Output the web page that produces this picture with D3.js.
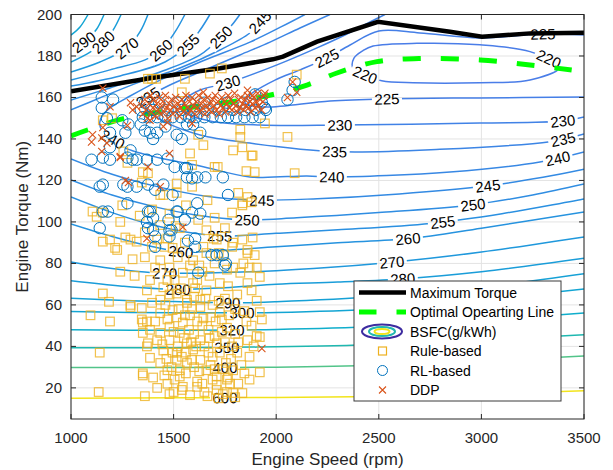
<!DOCTYPE html>
<html><head><meta charset="utf-8">
<script src="https://cdn.jsdelivr.net/npm/d3@7"></script>
<style>body{margin:0;background:#fff;} svg{font-family:"Liberation Sans",Arial,Helvetica,sans-serif;}</style>
</head><body><svg id="c" width="613" height="470"></svg>
<script>
const xTicks=[1000,1500,2000,2500,3000,3500];
const yTicks=[20,40,60,80,100,120,140,160,180,200];
const contourLevels=[220,225,230,235,240,245,250,255,260,270,280,290,300,320,350,400,600];
const contourColors=["#4a7de8","#457fe7","#4182e6","#3c85e5","#3888e4","#338ae3","#2f8de2","#2a90e1","#2693df","#1f98dc","#1a9dd9","#16a1d6","#13a5d3","#10aecc","#1fb8b0","#52c489","#f2e41c"];

const c600=[[1000,15],[1500,15.2],[2000,15.4],[2500,15.9],[3000,17.0],[3500,18.6]];
const c400=[[1000,29.8],[1500,29.8],[2000,30.0],[2500,30.9],[3000,32.9],[3500,35.4]];
const c350=[[1000,39.4],[1500,39.3],[2000,39.8],[2500,40.9],[3000,43.0],[3500,45.6]];
const c320=[[1000,48.0],[1500,47.8],[2000,48.2],[2500,49.6],[3000,52.5],[3500,56.1]];
const c300Lo=[[1000,56.8],[1500,56.2],[2000,56.4],[2500,58.2],[3000,62.5],[3500,67.7]];
const c300Up=[[1000,190.1],[1044,194.0],[1083,200]];
const c290Lo=[[1000,63.2],[1300,62.0],[1500,61.6],[1800,61.0],[2000,61.5],[2500,64],[3000,68.5],[3500,75]];
const c290Up=[[1000,182.9],[1063,186.7],[1122,192.5],[1161,200]];
const c280Lo=[[1000,71.6],[1250,69],[1500,67.5],[1750,68.3],[2000,70],[2300,71],[2600,72.5],[3000,76],[3500,82.5]];
const c280Up=[[1000,177.1],[1093,181.9],[1156,186.7],[1205,192.5],[1244,200]];
const c270Lo=[[1000,80.7],[1200,77.5],[1400,75.5],[1700,75.5],[2000,76.5],[2250,78],[2500,80],[2750,82.5],[3000,85.5],[3250,89],[3500,92.8]];
const c270Up=[[1000,172.3],[1141,177.1],[1273,183.9],[1336,191.6],[1375,200]];
const c260Lo=[[1000,99],[1200,93],[1400,88],[1550,85.5],[1700,86],[2000,88],[2300,90],[2650,92],[3000,97],[3500,104.8]];
const c260Up=[[1000,168.4],[1190,173.3],[1361,178.1],[1439,182.9],[1507,191.6],[1555,200]];
const c255Lo=[[1000,112],[1200,104.5],[1400,98.5],[1600,94.5],[1750,93.2],[2000,94.5],[2300,96.2],[2750,99.3],[3100,104],[3500,111.1]];
const c255Up=[[1000,165.5],[1239,170.4],[1458,177.1],[1570,185.3],[1629,192.5],[1677,200]];
const c250Lo=[[1000,120.3],[1200,113],[1400,107.5],[1600,103.5],[1850,101],[2100,102],[2500,104.5],[2950,108.2],[3250,113],[3500,118.3]];
const c250Up=[[1000,158.8],[1190,164.6],[1434,172.3],[1629,180.5],[1731,189.2],[1784,194.9],[1823,200]];
const c245Lo=[[1000,130.4],[1200,123],[1400,117.5],[1650,112.5],[1900,110.5],[2200,111.2],[2600,113.5],[3030,117.4],[3300,121.5],[3500,125.4]];
const c245Up=[[1000,154],[1141,159.8],[1336,167.5],[1531,174.2],[1726,182.9],[1872,191.1],[1921,196.4],[1960,200]];
const c240=[[2140,200],[2023,194],[1872,186.7],[1629,177.1],[1434,168.4],[1288,160.7],[1190,155],[1155,151.5],[1140,148],[1150,144],[1180,141],[1214,139.3],[1263,135.7],[1434,130.8],[1629,127],[1872,121.7],[2150,122.2],[2272,121.7],[2847,124.1],[3285,128.9],[3500,133.7]];
const c235=[[2262,200],[2116,193.5],[1970,186.7],[1823,180.5],[1629,172.3],[1482,166],[1375,160.2],[1346,157.8],[1361,154.9],[1458,148.2],[1629,141.9],[1872,138],[2286,133.9],[2798,135],[3334,138.7],[3500,142.4]];
const c230=[[2530,200],[2457,196.4],[2335,190.1],[2199,183.9],[2004,175.7],[1765,167],[1629,163.6],[1555,158.8],[1555,153],[1677,148.7],[1921,146.7],[2311,146.7],[2993,147.7],[3397,148.7],[3500,150.6]];
const c225=[[3500,190.1],[3300,190.6],[2993,188.7],[2700,191.1],[2500,192],[2360,185.3],[2247,179],[2116,173.3],[1994,168.4],[1872,161.2],[1848,157.4],[1936,155.4],[2262,158.3],[2540,159.3],[2993,159.8],[3500,160.2]];
const c220=[[2379,179],[2423,182.6],[2472,184.8],[2686,186.1],[2993,185.4],[3237,182.1],[3383,174.7],[3237,168.4],[2993,167.1],[2667,167.1],[2514,168.1],[2435,170.8],[2374,174.2]];

const contourSegments=[[600,c600],[400,c400],[350,c350],[320,c320],[300,c300Lo],[300,c300Up],[290,c290Lo],[290,c290Up],[280,c280Lo],[280,c280Up],[270,c270Lo],[270,c270Up],[260,c260Lo],[260,c260Up],[255,c255Lo],[255,c255Up],[250,c250Lo],[250,c250Up],[245,c245Lo],[245,c245Up],[240,c240],[235,c235],[230,c230],[225,c225],[220,c220]];

const contourLabels=[[220,2433,170.8],[220,3325,178.1],
[225,2247,179],[225,2540,159.3],[225,3300,190.6],
[230,1765,167],[230,2311,146.7],[230,3397,148.7],
[235,1375,160.2],[235,2286,133.9],[235,3397,140.5],
[240,1205,140],[240,2272,121.8],[240,3373,130.8],
[245,1921,196.4],[245,1931,110.3],[245,3032,117.4],
[250,1731,189.2],[250,1858,101],[250,2959,108.2],
[255,1570,185.3],[255,1726,92.8],[255,2813,99.5],
[260,1439,182.9],[260,1536,85.6],[260,2642,91.8],
[270,1273,183.9],[270,1458,75.4],[270,2564,79.8],
[280,1156,186.7],[280,1521,67.2],[280,2618,72],
[290,1063,186.7],[290,1765,61],
[300,1833,55.2],[320,1785,47],[350,1760,38.5],[400,1750,28.9],[600,1750,15]];

const maxTorque=[[1000,163],[1385,169.3],[1726,174.1],[1984,178.4],[2033,179.7],[2199,186.9],[2496,196.5],[2847,191.7],[3003,189.3],[3237,190.9],[3500,191.2]];
const optimalLine=[[1000,141.5],[1100,145],[1263,150],[1500,154],[1750,157.5],[1936,160.4],[2150,166],[2296,171.8],[2491,177.3],[2700,178.8],[2993,178.1],[3237,175.7],[3440,173.2]];

const ruleBased=[[1375,169],[1395,169],[1415,169],[1677,171.5],[1735,174],[1555,169],[2100,171],[1155,149],[1200,150],[1540,162.5],[1620,142],[1645,137],[1580,133],[1590,127.5],[1835,136],[1790,134.5],[1880,132],[1825,144.5],[1825,141],[1945,147.5],[2055,141],[2090,123.5],[1700,126.5],[1855,124.5],[1350,124],[1345,119],[1255,134],[1275,128.5],[1450,113],[1515,114],[1665,110.5],[1815,114],[1860,112],[1835,109],[1435,113],[1105,105],[1125,102.5],[1240,100],[1375,123.5],[1515,118.5],[1590,117],[1715,126.5],[1880,109.5],[1895,124],[1885,132],[1215,87.5],[1290,91.5],[1360,95],[1435,98.5],[1420,91.5],[1495,87.5],[1555,90],[1595,81.5],[1660,85],[1790,90],[1835,91.5],[1885,92.5],[1860,86.5],[1895,84],[1905,78],[1825,75.5],[1760,77],[1155,104.5],[1155,90.5],[1190,91.5],[1225,86.5],[1265,92.5],[1320,90.5],[1155,65.5],[1185,61.5],[1095,55],[1190,52],[1140,37],[1135,18],[1360,16],[1240,76],[1310,74],[1290,59],[1345,53],[1350,46.5],[1370,40],[1385,34.5],[1350,27],[1920,56.5],[1930,53],[1920,44.5],[1870,35],[1920,27.5],[1870,24],[1835,17.5],[1800,15.5],[1540,19],[1615,23],[1710,21.5],[1760,18],[1530,28.5],[1590,33.5],[1765,25],[1480,43],[1515,37],[1630,43],[1670,37],[1435,62.5],[1495,57.5],[1565,62.5],[1630,59],[1680,54],[1735,53],[1450,68.5],[1515,65.5],[1595,70.5],[1660,67],[1725,70.5],[1480,78],[1545,75.5],[1615,72],[1435,81.5],[1385,72],[1870,78],[1860,85],[1920,73.5],[1860,70.5],[1785,104.5],[1835,108],[1620,101],[1785,88],[1710,91.5],
[1290,60],[1345,58.5],[1370,52],[1385,48],[1435,56],[1470,53],[1480,49.5],[1515,54],[1545,51.5],[1580,55],[1615,52],[1645,53.5],[1530,46.5],[1565,41.5],[1595,38.5],[1670,48],[1515,33.5],[1565,32],[1630,33.5],[1660,28.5],[1710,25.5],[1760,24],[1530,25.5],[1615,20.5],[1710,19],[1790,17.5],[1860,43],[1880,67],[1350,26],[1420,43],[1375,41.5],[1470,28.5],[1495,37],[1435,32],[1545,20.5],[1725,37],[1790,28.5],[1810,37],[1760,49],[1710,41.5],[1725,56.5],[1435,46.5],[1350,51.5],[1370,67],[1565,61],[1630,62.5],
[1455,88],[1520,83],[1580,79],[1640,76],[1700,80],[1745,84],[1410,78],[1470,72],[1535,68],[1600,64],[1690,60],[1750,63],[1800,58],[1460,60],[1500,47],[1550,44],[1600,46],[1650,40],[1700,45],[1750,42],[1780,34],[1450,38],[1490,30],[1560,27],[1600,30],[1680,31],[1740,29],[1830,31],[1470,22],[1580,16.5],[1650,18],[1690,24],[1740,17],[1400,25],[1300,82],[1250,108],[1335,103],[1395,106],[1480,104],[1560,108],[1700,102],[1750,97],[1660,96],[1530,97],
[1420,20],[1455,26],[1500,18],[1520,40],[1540,35],[1575,48],[1590,58],[1610,40],[1625,28],[1640,50],[1655,63],[1675,44],[1690,35],[1705,52],[1720,62],[1735,47],[1755,32],[1770,55],[1785,40],[1800,46],[1815,22],[1845,27],[1855,52],[1890,40],[1905,62],[1480,65],[1505,72],[1525,58],[1555,55],[1585,42],[1605,68],[1625,79],[1645,88],[1675,74],[1695,92],[1720,85],[1765,69],[1790,78],[1810,65],[1840,80],[1395,61],[1410,52],[1445,41],[1465,34],[1480,17],[1505,24],[1560,37],[1640,22],[1665,16],[1700,29],[1720,15],[1775,22],[1815,42],[1845,57],[1880,50],[1905,45],[1360,83],[1395,88],[1470,92],[1510,98]];

const rlBased=[[1150,160],[1205,159],[1150,155],[1175,150],[1250,149],[1280,147],[1265,143],[1190,143],[1190,136],[1385,143],[1420,143],[1515,142],[1595,147],[1630,143],[1100,130],[1155,131],[1190,130],[1275,131],[1300,130],[1420,130],[1470,130.5],[1505,126.5],[1565,126],[1615,121.5],[1565,121.5],[1740,121.5],[1155,118],[1255,118],[1320,117],[1375,118],[1410,115.5],[1450,118],[1495,113],[1615,109],[1765,113],[1290,134.5],[1320,130],[1370,130],[1555,126],[1590,121],[1655,121.5],[1140,117],[1275,117],[1275,109],[1375,105],[1400,102],[1475,101],[1515,105],[1555,101],[1155,105],[1180,105],[1140,97],[1375,97],[1410,93],[1480,93],[1480,96],[1570,91],[1605,92],[1685,84],[1710,84],[1740,84],[1750,79],[1630,104],[1385,105],[1520,105],[1590,104.5],[1370,100],[1400,96],[1490,96],[1605,88],[1410,88],[1755,80],[1620,75.5],[1897,161.5],[1945,155],[2055,159],[2080,163.5],[2090,167.5],
[1350,150.5],[1385,150.5],[1420,150.5],[1460,150.5],[1495,150.5],[1535,150.5],[1575,150.5],[1610,150.5],[1650,150.5],[1690,150.5],[1730,150.5],[1765,150.5],[1805,150.5],[1845,150.5],[1885,150.5],[1920,150.5],
[1340,154],[1400,154],[1470,154],[1540,154],[1600,154],[1660,154],[1720,154],[1790,154],[1850,154],[1900,154],[1950,154],
[1360,157.5],[1430,157.5],[1520,157.5],[1580,157.5],[1650,157.5],[1760,157.5],[1840,157.5],[1930,157.5],
[1340,147],[1360,144],[1400,140],[1460,146],[1540,140],[1565,147]];

const ddp=[[1155,164.5],[1190,155.5],[1290,157.5],[1105,142],[1150,140.5],[1155,145.5],[1175,138],[1150,134],[1240,131.5],[1275,146.5],[1300,154],[1320,155.5],[1645,162.5],[1860,163.5],[1885,161],[1945,162],[2055,160],[2100,162.5],[2080,167.5],[1450,146],[1385,149],[1375,126.5],[1265,120],[1435,117],[1470,148],[1590,147.5],[1100,138.5],[1480,133],[1280,119],[1545,97.5],[1370,92],[1930,39],[1240,131],
[1345,156],[1350,152],[1360,159],[1365,154],[1372,150],[1380,157],[1388,161],[1392,153],[1400,155],[1405,159],[1410,151],[1418,157],[1425,154],[1430,160],[1436,152],[1442,156],[1448,158],[1455,153],[1460,161],[1466,155],[1472,150],[1478,157],[1485,154],[1490,159],[1497,152],[1503,156],[1510,160],[1516,154],[1522,157],[1528,151],[1535,155],[1540,159],[1547,153],[1553,157],[1560,161],[1566,155],[1572,152],[1578,158],[1585,154],[1590,160],[1597,156],[1603,152],[1610,158],[1616,155],[1622,161],[1628,153],[1635,157],[1641,155],[1647,159],[1653,152],[1660,156],[1666,160],[1672,154],[1678,157],[1685,153],[1690,159],[1697,156],[1703,161],[1710,154],[1716,158],[1722,152],[1728,156],[1735,160],[1741,155],[1747,158],[1753,153],[1760,157],[1766,161],[1772,155],[1778,159],[1785,154],[1791,157],[1797,162],[1803,156],[1810,153],[1816,159],[1822,155],[1828,160],[1835,157],[1841,154],[1847,159],[1853,156],[1860,161],[1866,155],[1872,158],[1878,153],[1885,157],[1891,160],[1897,155],[1903,158],[1910,162],[1916,156],[1922,159],[1928,154],[1935,158],[1941,161]];

const legendItems=["Maximum Torque","Optimal Opearting Line","BSFC(g/kWh)","Rule-based","RL-based","DDP"];

// ---------- drawing ----------
const L=71,R=584,T=14.5,B=419;
const svg=d3.select('#c');
const x=d3.scaleLinear().domain([1000,3500]).range([L,R]);
const y=d3.scaleLinear().domain([5,200]).range([B,T]);
const defs=svg.append('defs');
defs.append('clipPath').attr('id','plot').append('rect').attr('x',L).attr('y',T).attr('width',R-L).attr('height',B-T);
const mask=defs.append('mask').attr('id','lblmask').attr('maskUnits','userSpaceOnUse').attr('x',0).attr('y',0).attr('width',613).attr('height',470);
mask.append('rect').attr('width',613).attr('height',470).attr('fill','#fff');

svg.append('rect').attr('x',L).attr('y',T).attr('width',R-L).attr('height',B-T).attr('fill','#fff');
const gGrid=svg.append('g').attr('stroke','#e3e3e3').attr('stroke-width',1);
xTicks.forEach(t=>gGrid.append('line').attr('x1',x(t)).attr('x2',x(t)).attr('y1',T).attr('y2',B));
yTicks.forEach(t=>gGrid.append('line').attr('x1',L).attr('x2',R).attr('y1',y(t)).attr('y2',y(t)));

const colorOf=lv=>contourColors[contourLevels.indexOf(lv)];
const lineOpen=d3.line().x(d=>x(d[0])).y(d=>y(d[1])).curve(d3.curveCatmullRom.alpha(0.5));
const lineClosed=d3.line().x(d=>x(d[0])).y(d=>y(d[1])).curve(d3.curveCatmullRomClosed.alpha(0.5));
const gC=svg.append('g').attr('clip-path','url(#plot)');
const gCm=gC.append('g').attr('mask','url(#lblmask)');
const paths=contourSegments.map(([lv,pts])=>({lv,node:gCm.append('path')
  .attr('d',lv===220?lineClosed(pts):lineOpen(pts)).attr('fill','none')
  .attr('stroke',colorOf(lv)).attr('stroke-width',1.5).node()}));

const gL=gC.append('g');
contourLabels.forEach(([lv,r,t])=>{
  const tx=x(r),ty=y(t);let best=null;
  paths.filter(p=>p.lv===lv).forEach(p=>{
    const len=p.node.getTotalLength();
    for(let s=0;s<=len;s+=0.5){const q=p.node.getPointAtLength(s);const d=(q.x-tx)**2+(q.y-ty)**2;if(!best||d<best.d)best={d,s,p,q,len};}
  });
  const a=best.p.node.getPointAtLength(Math.max(0,best.s-5)),b=best.p.node.getPointAtLength(Math.min(best.len,best.s+5));
  let ang=Math.atan2(b.y-a.y,b.x-a.x)*180/Math.PI;if(ang>90)ang-=180;if(ang<-90)ang+=180;
  const txt=gL.append('text').attr('text-anchor','middle').attr('dominant-baseline','central')
    .attr('font-size',15).attr('fill','#000')
    .attr('transform',`translate(${best.q.x},${best.q.y}) rotate(${ang})`).text(lv);
  const w=txt.node().getComputedTextLength()+5;
  mask.append('rect').attr('x',-w/2).attr('y',-7).attr('width',w).attr('height',14).attr('fill','#000')
    .attr('transform',`translate(${best.q.x},${best.q.y}) rotate(${ang})`);
});

const lin=d3.line().x(d=>x(d[0])).y(d=>y(d[1]));
gC.append('path').attr('d',lin(maxTorque)).attr('fill','none').attr('stroke','#000').attr('stroke-width',4.5);
gC.append('path').attr('d',d3.line().x(d=>x(d[0])).y(d=>y(d[1])).curve(d3.curveCatmullRom)(optimalLine))
  .attr('fill','none').attr('stroke','#00ff00').attr('stroke-width',5).attr('stroke-dasharray','18,20');

const gS=gC.append('g');
gS.selectAll('rect.rb').data(ruleBased).join('rect').attr('class','rb')
  .attr('x',d=>x(d[0])-4.3).attr('y',d=>y(d[1])-4.3).attr('width',8.6).attr('height',8.6)
  .attr('fill','none').attr('stroke','#EDB120').attr('stroke-width',1.2).attr('stroke-opacity',0.8);
gS.selectAll('circle.rl').data(rlBased).join('circle').attr('class','rl')
  .attr('cx',d=>x(d[0])).attr('cy',d=>y(d[1])).attr('r',5.7)
  .attr('fill','none').attr('stroke','#0072BD').attr('stroke-width',1);
gS.selectAll('path.dp').data(ddp).join('path').attr('class','dp')
  .attr('d',d=>{const cx=x(d[0]),cy=y(d[1]),s=3.6;return `M${cx-s},${cy-s}L${cx+s},${cy+s}M${cx-s},${cy+s}L${cx+s},${cy-s}`;})
  .attr('fill','none').attr('stroke','#D95319').attr('stroke-width',1.1);

const ax=svg.append('g').attr('stroke','#262626').attr('stroke-width',1);
ax.append('rect').attr('x',L).attr('y',T).attr('width',R-L).attr('height',B-T).attr('fill','none');
xTicks.forEach(t=>{ax.append('line').attr('x1',x(t)).attr('x2',x(t)).attr('y1',B).attr('y2',B-5);
  ax.append('line').attr('x1',x(t)).attr('x2',x(t)).attr('y1',T).attr('y2',T+5);});
yTicks.forEach(t=>{ax.append('line').attr('x1',L).attr('x2',L+5).attr('y1',y(t)).attr('y2',y(t));
  ax.append('line').attr('x1',R).attr('x2',R-5).attr('y1',y(t)).attr('y2',y(t));});
const tl=svg.append('g').attr('fill','#262626').attr('font-size',15);
xTicks.forEach(t=>tl.append('text').attr('x',x(t)).attr('y',443).attr('text-anchor','middle').text(t));
yTicks.forEach(t=>tl.append('text').attr('x',L-9).attr('y',y(t)+5).attr('text-anchor','end').text(t));
svg.append('text').attr('x',(L+R)/2).attr('y',465).attr('text-anchor','middle').attr('font-size',17).attr('fill','#262626').text('Engine Speed (rpm)');
svg.append('text').attr('transform',`translate(28,${(T+B)/2}) rotate(-90)`).attr('text-anchor','middle').attr('font-size',17).attr('fill','#262626').text('Engine Torque (Nm)');

const lg=svg.append('g');
lg.append('rect').attr('x',354).attr('y',281).attr('width',207).attr('height',120).attr('fill','#fff').attr('stroke','#3a3a3a').attr('stroke-width',1);
const rows=[292.5,312,331.5,351,370.5,390];
legendItems.forEach((s,i)=>lg.append('text').attr('x',410).attr('y',rows[i]+5).attr('font-size',14).attr('fill','#000').text(s));
lg.append('line').attr('x1',359).attr('x2',406).attr('y1',rows[0]).attr('y2',rows[0]).attr('stroke','#000').attr('stroke-width',4.5);
lg.append('line').attr('x1',359).attr('x2',406).attr('y1',rows[1]).attr('y2',rows[1]).attr('stroke','#00ff00').attr('stroke-width',5).attr('stroke-dasharray','17.5,20');
lg.append('ellipse').attr('cx',382).attr('cy',rows[2]).attr('rx',20).attr('ry',7).attr('fill','none').attr('stroke','#3d2ca0').attr('stroke-width',2);
lg.append('ellipse').attr('cx',382).attr('cy',rows[2]).attr('rx',13).attr('ry',4.6).attr('fill','none').attr('stroke','#22b8b0').attr('stroke-width',2);
lg.append('ellipse').attr('cx',382).attr('cy',rows[2]).attr('rx',7.5).attr('ry',2.6).attr('fill','none').attr('stroke','#f2e41c').attr('stroke-width',2);
lg.append('rect').attr('x',378.5).attr('y',rows[3]-4).attr('width',8).attr('height',8).attr('fill','none').attr('stroke','#EDB120').attr('stroke-width',1.2);
lg.append('circle').attr('cx',382.5).attr('cy',rows[4]).attr('r',5).attr('fill','none').attr('stroke','#0072BD');
lg.append('path').attr('d',`M379,${rows[5]-3.5}L386,${rows[5]+3.5}M379,${rows[5]+3.5}L386,${rows[5]-3.5}`).attr('stroke','#D95319').attr('stroke-width',1.1);
</script></body></html>
